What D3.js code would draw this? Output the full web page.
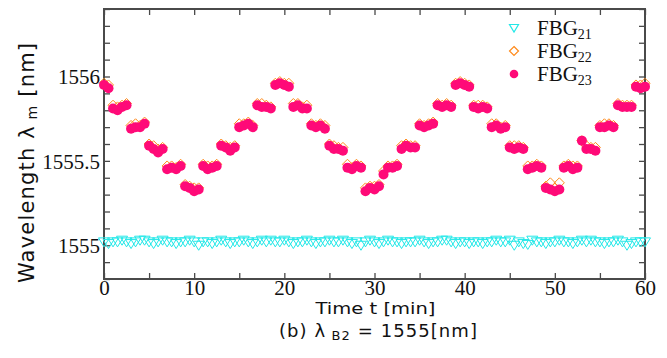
<!DOCTYPE html>
<html><head><meta charset="utf-8">
<script src="https://cdn.jsdelivr.net/npm/d3@7"></script>
<style>
body{margin:0;background:#fff;}
svg{display:block;}
</style></head>
<body>
<svg id="chart" width="667" height="358"></svg>
<script>
// ---- data ----
const times = [0,0.5,1,1.5,2,2.5,3,3.5,4,4.5,5,5.5,6,6.5,7,7.5,8,8.5,9,9.5,
10,10.5,11,11.5,12,12.5,13,13.5,14,14.5,15,15.5,16,16.5,17,17.5,18,18.5,19,19.5,
20,20.5,21,21.5,22,22.5,23,23.5,24,24.5,25,25.5,26,26.5,27,27.5,28,28.5,29,29.5,
30,30.5,31,31.5,32,32.5,33,33.5,34,34.5,35,35.5,36,36.5,37,37.5,38,38.5,39,39.5,
40,40.5,41,41.5,42,42.5,43,43.5,44,44.5,45,45.5,46,46.5,47,47.5,48,48.5,49,49.5,
50,50.5,51,51.5,52,52.5,53,53.5,54,54.5,55,55.5,56,56.5,57,57.5,58,58.5,59,59.5,60];

const fbg21 = [
1555.02,1555.01,1555.02,1555.02,1555.03,1555.02,1555.01,1555.02,1555.03,1555.03,
1555.02,1555.01,1555.02,1555.03,1555.02,1555.02,1555.01,1555.02,1555.02,1555.03,
1555.02,1555.00,1555.02,1555.02,1555.01,1555.02,1555.03,1555.02,1555.01,1555.02,
1555.02,1555.03,1555.02,1555.01,1555.02,1555.03,1555.02,1555.03,1555.02,1555.02,
1555.03,1555.02,1555.01,1555.02,1555.02,1555.03,1555.02,1555.01,1555.02,1555.02,
1555.03,1555.02,1555.02,1555.03,1555.02,1555.01,1555.02,1555.00,1555.02,1555.03,
1555.02,1555.01,1555.02,1555.03,1555.02,1555.02,1555.01,1555.02,1555.02,1555.02,
1555.03,1555.02,1555.01,1555.02,1555.02,1555.03,1555.03,1555.02,1555.01,1555.02,
1555.02,1555.01,1555.02,1555.02,1555.01,1555.02,1555.02,1555.03,1555.02,1555.02,
1555.03,1555.00,1555.02,1555.01,1555.005,1555.03,1555.02,1555.02,1555.01,1555.02,
1555.02,1555.03,1555.02,1555.02,1555.01,1555.02,1555.03,1555.02,1555.03,1555.02,
1555.02,1555.01,1555.02,1555.02,1555.03,1555.02,1555.00,1555.01,1555.02,1555.02,
1555.02];

const fbg22 = [
1555.96,1555.95,
1555.83,1555.82,1555.83,1555.84,
1555.71,1555.72,1555.71,1555.73,
1555.60,1555.59,1555.57,1555.58,
1555.47,1555.47,1555.46,1555.48,
1555.36,1555.35,1555.34,1555.34,
1555.48,1555.47,1555.47,1555.48,
1555.60,1555.59,1555.58,1555.59,
1555.72,1555.72,1555.73,1555.71,
1555.84,1555.84,1555.83,1555.82,
1555.96,1555.97,1555.96,1555.96,
1555.84,1555.84,1555.82,1555.83,
1555.72,1555.71,1555.72,1555.71,
1555.60,1555.59,1555.58,1555.58,
1555.48,1555.46,1555.48,1555.47,
1555.34,1555.35,1555.35,1555.36,
1555.44,1555.47,1555.47,1555.48,
1555.59,1555.60,1555.59,1555.59,
1555.72,1555.71,1555.72,1555.73,
1555.84,1555.83,1555.84,1555.83,
1555.96,1555.97,1555.96,1555.95,
1555.83,1555.83,1555.83,1555.82,
1555.72,1555.72,1555.70,1555.71,
1555.59,1555.59,1555.59,1555.58,
1555.47,1555.47,1555.48,1555.47,
1555.35,1555.37,1555.34,1555.37,
1555.47,1555.48,1555.47,1555.47,
1555.62,1555.59,1555.58,1555.58,
1555.71,1555.72,1555.72,1555.71,
1555.84,1555.83,1555.83,1555.83,
1555.95,1555.95,1555.96];

const fbg23 = [
1555.95,1555.93,
1555.81,1555.80,1555.82,1555.83,
1555.69,1555.70,1555.70,1555.72,
1555.59,1555.57,1555.55,1555.57,
1555.45,1555.46,1555.45,1555.47,
1555.35,1555.34,1555.32,1555.33,
1555.47,1555.45,1555.46,1555.47,
1555.59,1555.58,1555.56,1555.58,
1555.70,1555.71,1555.72,1555.70,
1555.83,1555.82,1555.82,1555.81,
1555.95,1555.96,1555.95,1555.94,
1555.82,1555.83,1555.81,1555.81,
1555.71,1555.70,1555.71,1555.69,
1555.59,1555.57,1555.57,1555.56,
1555.46,1555.45,1555.47,1555.46,
1555.32,1555.34,1555.33,1555.35,
1555.42,1555.46,1555.46,1555.47,
1555.57,1555.59,1555.58,1555.58,
1555.71,1555.70,1555.71,1555.72,
1555.83,1555.82,1555.83,1555.82,
1555.95,1555.96,1555.95,1555.94,
1555.82,1555.81,1555.82,1555.81,
1555.70,1555.71,1555.69,1555.70,
1555.58,1555.57,1555.58,1555.57,
1555.45,1555.46,1555.47,1555.46,
1555.34,1555.33,1555.32,1555.33,
1555.46,1555.47,1555.45,1555.46,
1555.62,1555.57,1555.57,1555.56,
1555.70,1555.70,1555.71,1555.70,
1555.83,1555.82,1555.82,1555.82,
1555.94,1555.93,1555.94];

const xDomain = [0, 60];
const yDomain = [1554.8, 1556.4];
const xTicks = [0,5,10,15,20,25,30,35,40,45,50,55,60];
const xTickLabels = [0,10,20,30,40,50,60];
const yTicks = [1554.8,1554.9,1555,1555.1,1555.2,1555.3,1555.4,1555.5,1555.6,1555.7,1555.8,1555.9,1556,1556.1,1556.2,1556.3,1556.4];
const yTickLabels = [1555, 1555.5, 1556];
const seriesNames = ["21","22","23"];

// ---- layout ----
const L = 104, R = 645, T = 9, B = 279;
const svg = d3.select("#chart");
const x = d3.scaleLinear().domain(xDomain).range([L, R]);
const y = d3.scaleLinear().domain(yDomain).range([B, T]);

const SERIF = "Liberation Serif";
const SANS = "DejaVu Sans";
const axisColor = "#4a4a4a";
const cyan = "#22e8e8", orange = "#ff8a1a", pink = "#ff0a78";

const isLab = (arr, v) => arr.some(a => Math.abs(a - v) < 1e-6);

// axes
const gx = svg.append("g").attr("transform", `translate(0,${B})`)
  .call(d3.axisBottom(x).tickValues(xTicks).tickSizeInner(-6).tickSizeOuter(0).tickPadding(2)
    .tickFormat(d => isLab(xTickLabels, d) ? d3.format("d")(d) : ""));
const gxt = svg.append("g").attr("transform", `translate(0,${T})`)
  .call(d3.axisTop(x).tickValues(xTicks).tickSizeInner(-6).tickSizeOuter(0).tickFormat(""));
const gy = svg.append("g").attr("transform", `translate(${L},0)`)
  .call(d3.axisLeft(y).tickValues(yTicks).tickSizeInner(-6).tickSizeOuter(0).tickPadding(4)
    .tickFormat(d => isLab(yTickLabels, d) ? String(+d.toFixed(1)) : ""));
const gyr = svg.append("g").attr("transform", `translate(${R},0)`)
  .call(d3.axisRight(y).tickValues(yTicks).tickSizeInner(-6).tickSizeOuter(0).tickFormat(""));

[gx, gxt, gy, gyr].forEach(g => {
  g.attr("font-family", SERIF).attr("font-size", 21);
  g.select(".domain").remove();
  g.selectAll(".tick line").attr("stroke", axisColor).attr("stroke-width", 1.3);
  g.selectAll(".tick text").attr("fill", "#111").attr("font-family", SERIF).attr("font-size", 21);
});
gy.selectAll(".tick text").attr("dy", "0.34em");
gx.selectAll(".tick text").attr("dy", "0.68em");

// frame
svg.append("rect").attr("x", L).attr("y", T).attr("width", R - L).attr("height", B - T)
  .attr("fill", "none").attr("stroke", axisColor).attr("stroke-width", 2);

// symbols
const tri = "M-5.5,-4L5.5,-4L0,5Z";
const dia = "M0,-5L5,0L0,5L-5,0Z";

const plot = svg.append("g");
plot.selectAll("path.s21").data(times.map((t, i) => [t, fbg21[i]])).join("path")
  .attr("class", "s21").attr("d", tri)
  .attr("transform", d => `translate(${x(d[0])},${y(d[1])})`)
  .attr("fill", "none").attr("stroke", cyan).attr("stroke-width", 1);
plot.selectAll("path.s22").data(times.map((t, i) => [t, fbg22[i]])).join("path")
  .attr("class", "s22").attr("d", dia)
  .attr("transform", d => `translate(${x(d[0])},${y(d[1])})`)
  .attr("fill", "none").attr("stroke", orange).attr("stroke-width", 1);
plot.selectAll("circle.s23").data(times.map((t, i) => [t, fbg23[i]])).join("circle")
  .attr("class", "s23").attr("cx", d => x(d[0])).attr("cy", d => y(d[1])).attr("r", 5)
  .attr("fill", pink);

// legend
const legend = svg.append("g");
const legY = [28, 51, 74];
const marks = [
  g => g.append("path").attr("d", "M-4.5,-3.5L4.5,-3.5L0,4Z").attr("fill", "none").attr("stroke", cyan).attr("stroke-width", 1.2),
  g => g.append("path").attr("d", "M0,-4.5L4.5,0L0,4.5L-4.5,0Z").attr("fill", "none").attr("stroke", orange).attr("stroke-width", 1.2),
  g => g.append("circle").attr("r", 4.3).attr("fill", pink)
];
seriesNames.forEach((n, i) => {
  const g = legend.append("g").attr("transform", `translate(514,${legY[i]})`);
  marks[i](g);
  const t = legend.append("text").attr("x", 537).attr("y", legY[i] + 7)
    .attr("font-family", SERIF).attr("font-size", 21).attr("fill", "#111").text("FBG");
  const w = t.node().getComputedTextLength();
  legend.append("text").attr("x", 537 + w).attr("y", legY[i] + 11)
    .attr("font-family", SERIF).attr("font-size", 14).attr("fill", "#111").text(n);
});

// axis titles
svg.append("text").attr("x", (L + R) / 2 + 1).attr("y", 314).attr("text-anchor", "middle")
  .attr("font-family", SANS).attr("font-size", 16).attr("fill", "#111")
  .attr("textLength", 120).attr("lengthAdjust", "spacingAndGlyphs").text("Time t [min]");

const yt = svg.append("text").attr("transform", `translate(34,163) rotate(-90)`).attr("text-anchor", "middle")
  .attr("font-family", SANS).attr("font-size", 21).attr("fill", "#111")
  .attr("textLength", 240).attr("lengthAdjust", "spacing");
yt.append("tspan").text("Wavelength \u03bb");
yt.append("tspan").attr("dy", 3).attr("font-size", 14).text(" m");
yt.append("tspan").attr("dy", -3).text(" [nm]");

const cap = svg.append("text").attr("x", 378).attr("y", 337).attr("text-anchor", "middle")
  .attr("font-family", SANS).attr("font-size", 18).attr("fill", "#111")
  .attr("textLength", 198).attr("lengthAdjust", "spacing");
cap.append("tspan").text("(b) \u03bb");
cap.append("tspan").attr("dy", 3).attr("font-size", 13).text(" B2");
cap.append("tspan").attr("dy", -3).text(" = 1555[nm]");
</script>
</body></html>
